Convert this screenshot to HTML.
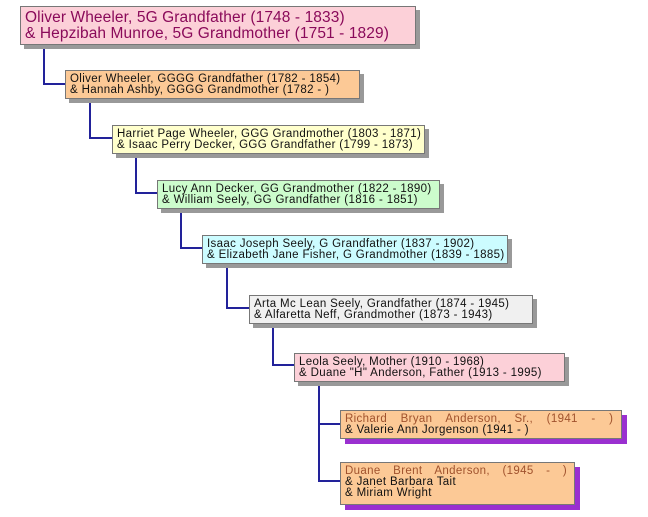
<!DOCTYPE html>
<html><head><style>
body{margin:0;width:648px;height:517px;background:#fff;position:relative;overflow:hidden;font-family:"Liberation Sans",sans-serif;}
.b{position:absolute;box-sizing:border-box;border:1px solid #777;box-shadow:4px 4px 0 #999;font-size:11.5px;letter-spacing:0.35px;line-height:11px;padding:3px 4px;color:#111;white-space:nowrap;}
.l{position:absolute;background:#22229a;}
</style></head><body>
<div class="l" style="left:43px;top:44px;width:2px;height:41px"></div>
<div class="l" style="left:43px;top:83px;width:22px;height:2px"></div>
<div class="l" style="left:89px;top:98px;width:2px;height:41px"></div>
<div class="l" style="left:89px;top:137px;width:23px;height:2px"></div>
<div class="l" style="left:135px;top:153px;width:2px;height:41px"></div>
<div class="l" style="left:135px;top:192px;width:22px;height:2px"></div>
<div class="l" style="left:180px;top:208px;width:2px;height:41px"></div>
<div class="l" style="left:180px;top:247px;width:22px;height:2px"></div>
<div class="l" style="left:226px;top:263px;width:2px;height:46px"></div>
<div class="l" style="left:226px;top:307px;width:23px;height:2px"></div>
<div class="l" style="left:272px;top:323px;width:2px;height:43px"></div>
<div class="l" style="left:272px;top:364px;width:22px;height:2px"></div>
<div class="l" style="left:318px;top:381px;width:2px;height:101px"></div>
<div class="l" style="left:318px;top:423px;width:22px;height:2px"></div>
<div class="l" style="left:318px;top:480px;width:22px;height:2px"></div>

<div class="b" style="left:20px;top:6px;width:396px;height:39px;background:#fcd0d8;color:#8a0a5a;font-size:15.5px;letter-spacing:0.1px;line-height:16px;padding:3px 4px">Oliver Wheeler, 5G Grandfather (1748 - 1833)<br>&amp; Hepzibah Munroe, 5G Grandmother (1751 - 1829)</div>
<div class="b" style="left:65px;top:70px;width:295px;height:29px;background:#fcc996">Oliver Wheeler, GGGG Grandfather (1782 - 1854)<br>&amp; Hannah Ashby, GGGG Grandmother (1782 - )</div>
<div class="b" style="left:112px;top:125px;width:313px;height:29px;background:#ffffcc">Harriet Page Wheeler, GGG Grandmother (1803 - 1871)<br>&amp; Isaac Perry Decker, GGG Grandfather (1799 - 1873)</div>
<div class="b" style="left:157px;top:180px;width:283px;height:29px;background:#ccfccc">Lucy Ann Decker, GG Grandmother (1822 - 1890)<br>&amp; William Seely, GG Grandfather (1816 - 1851)</div>
<div class="b" style="left:202px;top:235px;width:306px;height:29px;background:#ccfcff">Isaac Joseph Seely, G Grandfather (1837 - 1902)<br>&amp; Elizabeth Jane Fisher, G Grandmother (1839 - 1885)</div>
<div class="b" style="left:249px;top:295px;width:284px;height:29px;background:#f0f0f0">Arta Mc Lean Seely, Grandfather (1874 - 1945)<br>&amp; Alfaretta Neff, Grandmother (1873 - 1943)</div>
<div class="b" style="left:294px;top:353px;width:271px;height:29px;background:#fcd0d8">Leola Seely, Mother (1910 - 1968)<br>&amp; Duane "H" Anderson, Father (1913 - 1995)</div>
<div class="b" style="left:340px;top:410px;width:282px;height:29px;background:#fcc996;box-shadow:5px 5px 0 #9a30d0"><span style="color:#a0522d;word-spacing:10px">Richard Bryan Anderson, Sr., (1941 - )</span><br>&amp; Valerie Ann Jorgenson (1941 - )</div>
<div class="b" style="left:340px;top:462px;width:235px;height:43px;background:#fcc996;box-shadow:5px 5px 0 #9a30d0"><span style="color:#a0522d;word-spacing:9px">Duane Brent Anderson, (1945 - )</span><br>&amp; Janet Barbara Tait<br>&amp; Miriam Wright</div>
</body></html>
